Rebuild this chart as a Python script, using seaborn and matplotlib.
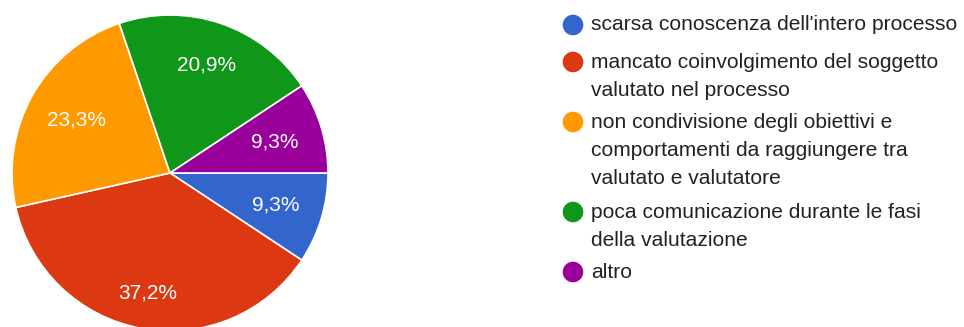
import matplotlib
matplotlib.use("Agg")
import matplotlib.pyplot as plt
import numpy as np
import seaborn as sns

categories = [
    "scarsa conoscenza dell'intero processo",
    "mancato coinvolgimento del soggetto\nvalutato nel processo",
    "non condivisione degli obiettivi e\ncomportamenti da raggiungere tra\nvalutato e valutatore",
    "poca comunicazione durante le fasi\ndella valutazione",
    "altro",
]
shares = [9.3, 37.2, 23.3, 20.9, 9.3]
colors = ["#3366CC", "#DC3912", "#FF9900", "#109618", "#990099"]

sns.set_theme(style="white")
plt.rcParams["font.family"] = ["Liberation Sans", "DejaVu Sans"]

W, H = 964, 327
fig = plt.figure(figsize=(W / 100, H / 100), dpi=100)
fig.patch.set_facecolor("white")

# pie axes: centre (170, 173) px, radius 158 px
cx, cy, r = 170, 173, 158
ax = fig.add_axes([(cx - r) / W, (H - cy - r) / H, 2 * r / W, 2 * r / H])
wedges, _, autotexts = ax.pie(
    shares,
    colors=colors,
    startangle=0,
    counterclock=False,
    radius=1.0,
    autopct=lambda p: f"{p:.1f}%".replace(".", ","),
    pctdistance=0.70,
    wedgeprops=dict(edgecolor="white", linewidth=1.2),
    textprops=dict(color="white", fontsize=15),
)
# radial distance of each percentage label
label_dist = [0.70, 0.77, 0.68, 0.72, 0.69]
for w, t, d in zip(wedges, autotexts, label_dist):
    mid = np.deg2rad((w.theta1 + w.theta2) / 2)
    t.set_position((d * np.cos(mid), d * np.sin(mid)))
ax.set_xlim(-1, 1)
ax.set_ylim(-1, 1)
ax.set_aspect("equal")
ax.axis("off")

# legend drawn in pixel coordinates
lax = fig.add_axes([0, 0, 1, 1])
lax.set_xlim(0, W)
lax.set_ylim(H, 0)
lax.axis("off")

first_line_y = [25, 62, 122, 212, 272]
line_step = 28.5
for label, color, y0 in zip(categories, colors, first_line_y):
    lax.scatter([573], [y0], s=220, color=color, edgecolors="none")
    for i, line in enumerate(label.split("\n")):
        lax.text(591, y0 + i * line_step, line, fontsize=15.1, color="#222222",
                 va="center", ha="left")

fig.savefig("out.png", dpi=100, facecolor="white")
